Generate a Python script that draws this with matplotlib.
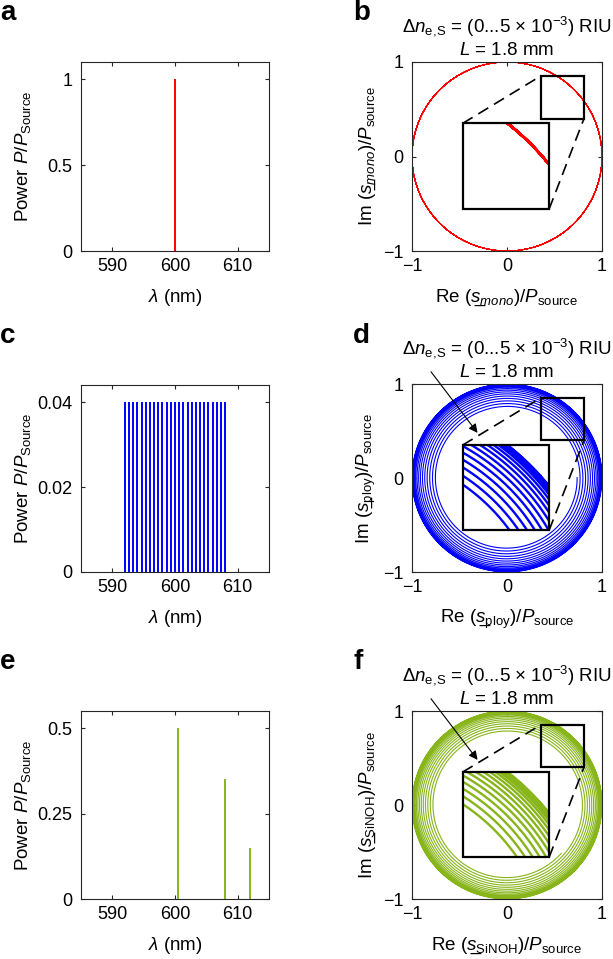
import numpy as np
import matplotlib.pyplot as plt
from matplotlib.patches import Rectangle

plt.rcParams['font.family'] = ['Liberation Sans', 'DejaVu Sans']
plt.rcParams['mathtext.fontset'] = 'custom'
plt.rcParams['mathtext.rm'] = 'Liberation Sans'
plt.rcParams['mathtext.it'] = 'Liberation Sans:italic'
plt.rcParams['mathtext.bf'] = 'Liberation Sans:bold'

# spectra (wavelength in nm, relative power)
wl_mono = [600.0]
p_mono = [1.0]

wl_poly = [592.00, 592.67, 593.33, 594.00, 594.67, 595.33, 596.00, 596.67,
           597.33, 598.00, 598.67, 599.33, 600.00, 600.67, 601.33, 602.00,
           602.67, 603.33, 604.00, 604.67, 605.33, 606.00, 606.67, 607.33,
           608.00]
p_poly = [0.04] * 25

wl_sinoh = [600.5, 608.0, 612.0]
p_sinoh = [0.50, 0.35, 0.15]

# sweep parameters given in the panel titles
dn_max = 5e-3
L_mm = 1.8

red = (1.0, 0.0, 0.0)
blue = (0.0, 0.0, 1.0)
green = (0.53, 0.71, 0.10)
axc = (0.15, 0.15, 0.15)

W, H = 613, 959
fig = plt.figure(figsize=(W / 100, H / 100), dpi=100)


def px_axes(left, top, right, bottom):
    return fig.add_axes([left / W, 1 - bottom / H, (right - left) / W, (bottom - top) / H])


def style(ax):
    for s in ax.spines.values():
        s.set_color(axc)
        s.set_linewidth(0.8)
    ax.tick_params(direction='in', length=3, width=0.8, top=True, right=True,
                   labelsize=13, color=axc)
    ax.tick_params(axis='x', pad=5)
    ax.tick_params(axis='y', pad=6)


def trajectory(wl, p, n=15000):
    dn = np.linspace(0, dn_max, n)
    k = L_mm * 1e-3 / (np.asarray(wl) * 1e-9)
    s = (np.asarray(p) * np.exp(2j * np.pi * np.outer(dn, k))).sum(axis=1)
    return s.real, s.imag


def spectrum(ax, wl, p, color, ytop, yticks, ylabels):
    style(ax)
    ax.vlines(wl, 0, p, color=color, lw=1.4)
    ax.set_xlim(585, 615)
    ax.set_ylim(0, ytop)
    ax.set_xticks([590, 600, 610])
    ax.set_yticks(yticks)
    ax.set_yticklabels(ylabels)
    ax.set_xlabel(r'$\lambda$ (nm)', fontsize=13.5)
    ax.set_ylabel(r'Power $\mathit{P}/\mathit{P}_{\mathrm{Source}}$', fontsize=13.5)
    ax.xaxis.set_label_coords(0.5, -0.19)
    ax.yaxis.set_label_coords(-0.255, 0.5)


def phasor(ax, wl, p, color, svar, arrow, lw=0.8):
    style(ax)
    x, y = trajectory(wl, p)
    ax.plot(x, y, color=color, lw=lw)
    ax.set_xlim(-1, 1)
    ax.set_ylim(-1, 1)
    ax.set_xticks([-1, 0, 1])
    ax.set_yticks([-1, 0, 1])
    ax.set_xticklabels(['\u22121', '0', '1'])
    ax.set_yticklabels(['\u22121', '0', '1'])

    # zoom boxes
    bx0, by0, bw, bh = -0.467, -0.557, 0.91, 0.907
    sx0, sy0, sw = 0.44, 0.44, 0.345
    bg = Rectangle((bx0, by0), bw, bh, fc='white', ec='none', zorder=4)
    ax.add_patch(bg)
    zx = bx0 + (x - sx0) * bw / sw
    zy = by0 + (y - sy0) * bh / sw
    ln, = ax.plot(zx, zy, color=color, lw=1.7, zorder=5)
    ln.set_clip_path(bg)
    ax.add_patch(Rectangle((bx0, by0), bw, bh, fill=False, ec='k', lw=1.6, zorder=6))
    ax.add_patch(Rectangle((0.36, 0.40), 0.45, 0.455, fill=False, ec='k', lw=1.6, zorder=6))
    ax.plot([bx0, 0.36], [by0 + bh, 0.855], color='k', lw=1.2, dashes=(7, 4), zorder=6)
    ax.plot([bx0 + bw, 0.81], [by0, 0.40], color='k', lw=1.2, dashes=(7, 4), zorder=6)

    ax.text(0.5, 1.161, '$\\Delta\\mathit{n}_{\\mathrm{e,\\!S}}$ = (0...5 \u00d7 10$^{-3}$) RIU',
            transform=ax.transAxes, ha='center', va='baseline', fontsize=13.5)
    ax.text(0.5, 1.039, r'$\mathit{L}$ = 1.8 mm', transform=ax.transAxes,
            ha='center', va='baseline', fontsize=13.5)

    ax.set_xlabel(r'Re $(%s)/\mathit{P}_{\mathrm{source}}$' % svar, fontsize=13.5)
    ax.set_ylabel(r'Im $(%s)/\mathit{P}_{\mathrm{source}}$' % svar, fontsize=13.5)
    ax.xaxis.set_label_coords(0.5, -0.193)
    ax.yaxis.set_label_coords(-0.181, 0.5)

    if arrow:
        ax.annotate('', xy=(-0.31, 0.48), xytext=(-0.80, 1.13),
                    arrowprops=dict(arrowstyle='-|>', color='k', lw=0.8,
                                    mutation_scale=13, shrinkA=0, shrinkB=0),
                    annotation_clip=False, zorder=7)


ax_a = px_axes(81, 62, 269, 251)
spectrum(ax_a, wl_mono, p_mono, red, 1.1, [0, 0.5, 1], ['0', '0.5', '1'])
ax_b = px_axes(412, 62, 602, 251)
phasor(ax_b, wl_mono, p_mono, red, '\\mathit{s\u0332}_{\\mathit{mono}}', False, lw=0.6)

ax_c = px_axes(81, 385, 269, 572)
spectrum(ax_c, wl_poly, p_poly, blue, 0.044, [0, 0.02, 0.04], ['0', '0.02', '0.04'])
ax_d = px_axes(412, 384, 602, 572)
phasor(ax_d, wl_poly, p_poly, blue, '\\mathit{s\u0332}_{\\mathrm{ploy}}', True)

ax_e = px_axes(81, 711, 269, 899)
spectrum(ax_e, wl_sinoh, p_sinoh, green, 0.55, [0, 0.25, 0.5], ['0', '0.25', '0.5'])
ax_f = px_axes(412, 711, 602, 899)
phasor(ax_f, wl_sinoh, p_sinoh, green, '\\mathit{s\u0332}_{\\mathrm{SiNOH}}', True)

for lab, x, y in [('a', 0, 20), ('b', 353, 20), ('c', 0, 343), ('d', 353, 343),
                  ('e', 0, 669), ('f', 353, 669)]:
    fig.text(x / W, 1 - y / H, lab, fontsize=20, fontweight='bold', ha='left', va='baseline')

fig.savefig('out.png', dpi=100)
